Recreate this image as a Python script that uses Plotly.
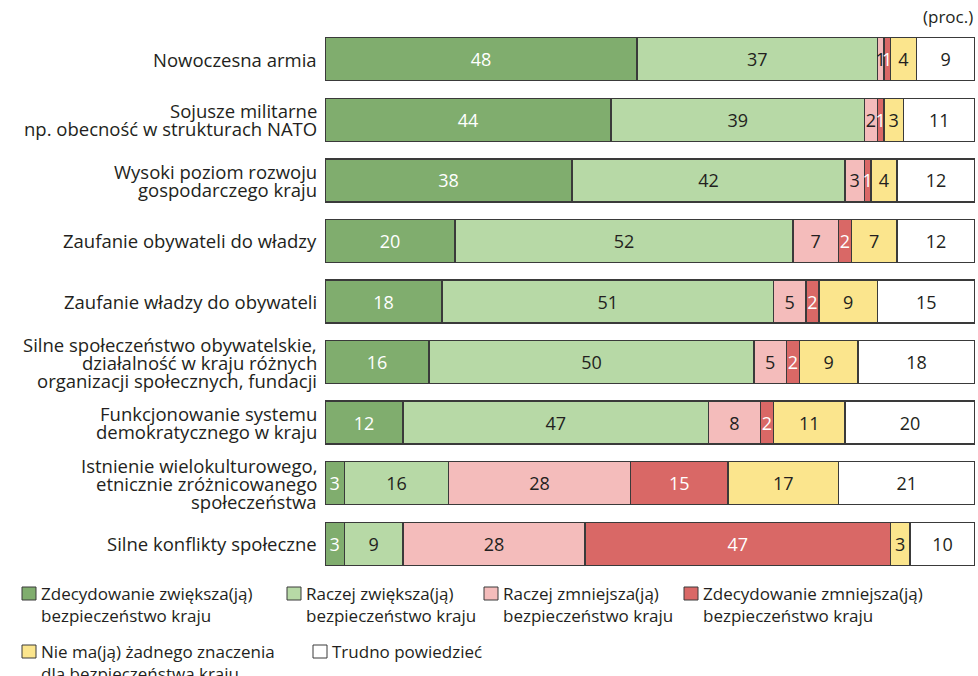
import plotly.graph_objects as go

categories = [
    "Nowoczesna armia",
    "Sojusze militarne<br>np. obecność w strukturach NATO",
    "Wysoki poziom rozwoju<br>gospodarczego kraju",
    "Zaufanie obywateli do władzy",
    "Zaufanie władzy do obywateli",
    "Silne społeczeństwo obywatelskie,<br>działalność w kraju różnych<br>organizacji społecznych, fundacji",
    "Funkcjonowanie systemu<br>demokratycznego w kraju",
    "Istnienie wielokulturowego,<br>etnicznie zróżnicowanego<br>społeczeństwa",
    "Silne konflikty społeczne",
]

series_names = [
    "Zdecydowanie zwiększa(ją)<br>bezpieczeństwo kraju",
    "Raczej zwiększa(ją)<br>bezpieczeństwo kraju",
    "Raczej zmniejsza(ją)<br>bezpieczeństwo kraju",
    "Zdecydowanie zmniejsza(ją)<br>bezpieczeństwo kraju",
    "Nie ma(ją) żadnego znaczenia<br>dla bezpieczeństwa kraju",
    "Trudno powiedzieć",
]

zdecydowanie_zwieksza = [48, 44, 38, 20, 18, 16, 12, 3, 3]
raczej_zwieksza = [37, 39, 42, 52, 51, 50, 47, 16, 9]
raczej_zmniejsza = [1, 2, 3, 7, 5, 5, 8, 28, 28]
zdecydowanie_zmniejsza = [1, 1, 1, 2, 2, 2, 2, 15, 47]
bez_znaczenia = [4, 3, 4, 7, 9, 9, 11, 17, 3]
trudno_powiedziec = [9, 11, 12, 12, 15, 18, 20, 21, 10]

series_values = [zdecydowanie_zwieksza, raczej_zwieksza, raczej_zmniejsza,
                 zdecydowanie_zmniejsza, bez_znaczenia, trudno_powiedziec]

colors = ["#80ad6e", "#b7d9a6", "#f4bcbb", "#d96866", "#fbe58d", "#ffffff"]
text_colors = ["#ffffff", "#231f20", "#231f20", "#ffffff", "#231f20", "#231f20"]

FONT = "Open Sans"
W, H = 978, 676
ML = 325
MR = W - 975
MT = 29
MB = H - 574
PW = W - ML - MR
PH = H - MT - MB

fig = go.Figure()
for name, vals, col, tcol in zip(series_names, series_values, colors, text_colors):
    fig.add_trace(go.Bar(
        y=categories, x=vals, orientation="h", name=name,
        marker=dict(color=col, line=dict(color="#3a3a3a", width=1.3)),
        text=[str(v) for v in vals], textposition="inside",
        insidetextanchor="middle", constraintext="none",
        textfont=dict(color=tcol, size=18, family=FONT),
        showlegend=False, hoverinfo="x+y",
    ))

annotations = []
# category labels, line by line (tight spacing)
line_h = 18
for cat in categories:
    lines = cat.split("<br>")
    n = len(lines)
    for i, ln in enumerate(lines):
        off = ((n - 1) / 2 - i) * line_h
        annotations.append(dict(
            x=0, xref="paper", xanchor="right", xshift=-6,
            y=cat, yref="y", yanchor="middle", yshift=off,
            text=ln, showarrow=False,
            font=dict(family=FONT, size=18.5, color="#231f20"),
        ))

annotations.append(dict(
    x=1, xref="paper", xanchor="right", y=1, yref="paper", yanchor="bottom",
    yshift=-1, text="(proc.)", showarrow=False,
    font=dict(family=FONT, size=17, color="#231f20"),
))


def px_to_paper_x(px):
    return (px - ML) / PW


def px_to_paper_y(py):
    return (H - MB - py) / PH


# custom legend (positions in reference pixels)
legend_pos = [(22, 587), (287, 587), (484, 587), (684, 587), (22, 645), (313, 645)]
shapes = []
sqw, sqh = 14, 13
for (lx, ly), name, col in zip(legend_pos, series_names, colors):
    shapes.append(dict(
        type="rect", xref="paper", yref="paper",
        x0=px_to_paper_x(lx), x1=px_to_paper_x(lx + sqw),
        y0=px_to_paper_y(ly + sqh), y1=px_to_paper_y(ly),
        fillcolor=col, line=dict(color="#3a3a3a", width=1),
    ))
    for i, ln in enumerate(name.split("<br>")):
        annotations.append(dict(
            x=px_to_paper_x(lx + sqw + 3), xref="paper", xanchor="left",
            y=px_to_paper_y(ly + 6 + i * 22), yref="paper", yanchor="middle",
            text=ln, showarrow=False,
            font=dict(family=FONT, size=17, color="#231f20"),
        ))

fig.update_layout(
    width=W, height=H,
    margin=dict(l=ML, r=MR, t=MT, b=MB),
    barmode="stack", bargap=0.29,
    plot_bgcolor="white", paper_bgcolor="white",
    xaxis=dict(range=[0, 100], visible=False, fixedrange=True),
    yaxis=dict(autorange="reversed", showticklabels=False, showgrid=False,
               zeroline=False, fixedrange=True),
    annotations=annotations, shapes=shapes,
    uniformtext=dict(minsize=18, mode="show"),
    font=dict(family=FONT, color="#231f20"),
)

fig.write_html(
    "out.html",
    config={"displayModeBar": False},
    post_script="document.body.style.margin='0';document.body.style.overflow='hidden';",
)
